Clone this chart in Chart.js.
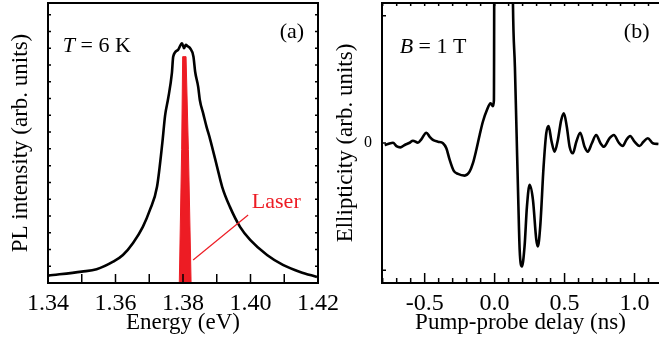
<!DOCTYPE html>
<html>
<head>
<meta charset="utf-8">
<script src="https://cdn.jsdelivr.net/npm/chart.js@4.4.0/dist/chart.umd.min.js"></script>
<style>
    html, body { margin: 0; padding: 0; background: #fff; }
    #wrap { position: relative; width: 659px; height: 342px; overflow: hidden; }
    canvas { position: absolute; top: 0; }
    #plChart { left: 0; }
    #kerrChart { left: 330px; }
</style>
</head>
<body>
<div id="wrap">
    <canvas id="plChart" width="345" height="342"></canvas>
    <canvas id="kerrChart" width="329" height="342"></canvas>
</div>
<script>
// (a) photoluminescence spectrum
const energy = [1.3401, 1.3500, 1.3544, 1.3593, 1.3622, 1.3652, 1.3681, 1.3702, 1.3723, 1.3739,
    1.3747, 1.3756, 1.3767, 1.3771, 1.3785, 1.3797, 1.3803, 1.3808, 1.3815, 1.3821,
    1.3831, 1.3836, 1.3845, 1.3850, 1.3860, 1.3870, 1.3880, 1.3901, 1.3916, 1.3939,
    1.3969, 1.3999, 1.4049, 1.4096, 1.4147, 1.4197];
const plIntensity = [0.44, 0.68, 0.82, 1.27, 1.67, 2.39, 3.35, 4.36, 5.74, 8.4,
    10.0, 11.0, 12.5, 13.5, 13.9, 14.3, 14.0, 14.2, 14.1, 14.0,
    13.5, 12.6, 11.7, 10.9, 10.1, 9.3, 8.6, 6.93, 5.74, 4.54,
    3.35, 2.57, 1.67, 1.08, 0.66, 0.36];

// laser line
const laserEnergy = [1.3789, 1.3796, 1.3799, 1.3809, 1.3816, 1.3824];
const laserIntensity = [0, 7.95, 13.5, 13.5, 7.95, 0];

// (b) ellipticity vs pump-probe delay
const delay = [-0.786, -0.762, -0.726, -0.702, -0.674, -0.643, -0.607, -0.584, -0.548, -0.524,
    -0.488, -0.464, -0.441, -0.405, -0.369, -0.345, -0.321, -0.293, -0.262, -0.214,
    -0.179, -0.155, -0.131, -0.107, -0.084, -0.055, -0.029, -0.012, -0.005, 0.000,
    0.120, 0.131, 0.145, 0.157, 0.169, 0.179, 0.195, 0.214, 0.231, 0.250,
    0.274, 0.298, 0.309, 0.326, 0.350, 0.369, 0.386, 0.405, 0.429, 0.452,
    0.476, 0.495, 0.516, 0.536, 0.559, 0.584, 0.612, 0.643, 0.666, 0.695,
    0.726, 0.757, 0.781, 0.821, 0.852, 0.888, 0.916, 0.941, 0.969, 1.000,
    1.036, 1.064, 1.095, 1.131, 1.171];
const ellipticity = [-0.016, -0.008, 0.002, -0.024, -0.034, -0.016, 0.002, 0.018, 0.002, 0.029,
    0.081, 0.049, 0.024, 0.010, -0.002, -0.042, -0.133, -0.217, -0.243, -0.256,
    -0.225, -0.159, -0.055, 0.063, 0.167, 0.259, 0.311, 0.290, 0.337, 2.5,
    2.5, 1.10, 0.598, 0.076, -0.447, -0.839, -0.970, -0.813, -0.500, -0.329,
    -0.447, -0.761, -0.813, -0.656, -0.186, 0.076, 0.133, 0.024, -0.068, 0.024,
    0.180, 0.233, 0.128, -0.029, -0.081, 0.010, 0.081, -0.029, -0.068, -0.002,
    0.063, -0.002, -0.029, 0.037, 0.063, 0.002, -0.024, 0.024, 0.055, 0.010,
    -0.024, 0.010, 0.037, -0.002, -0.008];

const energyTickLabels = ['1.34', '1.36', '1.38', '1.40', '1.42'];
const delayTickLabels = ['-0.5', '0.0', '0.5', '1.0'];
const ellipticityTickLabels = ['0'];

const serif = "'Liberation Serif', 'Times New Roman', 'DejaVu Serif', serif";
const red = '#ed1c24';

function pts(xs, ys) {
    return xs.map((x, i) => ({ x: x, y: ys[i] }));
}

function steps(from, to, step) {
    const out = [];
    const n = Math.round((to - from) / step);
    for (let i = 0; i <= n; i++) {
        out.push(Math.round((from + i * step) * 1000) / 1000);
    }
    return out;
}

// tick labels should not push the plot area around
function noPad(s) {
    s.paddingTop = 0;
    s.paddingBottom = 0;
}

// box around the plot and tick marks pointing inwards
const frame = {
    id: 'frame',
    afterDatasetsDraw(chart, args, opts) {
        const { ctx, chartArea: a, scales } = chart;
        ctx.save();
        ctx.strokeStyle = '#000';
        ctx.lineWidth = 1.5;
        ctx.beginPath();
        (opts.bottom || []).forEach(t => {
            const px = scales.x.getPixelForValue(t[0]);
            ctx.moveTo(px, a.bottom);
            ctx.lineTo(px, a.bottom - t[1]);
        });
        (opts.top || []).forEach(t => {
            const px = scales.x.getPixelForValue(t[0]);
            ctx.moveTo(px, a.top);
            ctx.lineTo(px, a.top + t[1]);
        });
        (opts.left || []).forEach(t => {
            const py = scales.y.getPixelForValue(t[0]);
            ctx.moveTo(a.left, py);
            ctx.lineTo(a.left + t[1], py);
        });
        (opts.right || []).forEach(t => {
            const py = scales.y.getPixelForValue(t[0]);
            ctx.moveTo(a.right, py);
            ctx.lineTo(a.right - t[1], py);
        });
        ctx.stroke();

        ctx.lineWidth = 2;
        ctx.beginPath();
        if (opts.closed) {
            ctx.rect(a.left, a.top, a.right - a.left, a.bottom - a.top);
        } else {
            ctx.moveTo(a.right + 2, a.top);
            ctx.lineTo(a.left, a.top);
            ctx.lineTo(a.left, a.bottom);
            ctx.lineTo(a.right + 2, a.bottom);
        }
        ctx.stroke();
        ctx.restore();
    }
};

// text labels and leader line, placed in data coordinates
const notes = {
    id: 'notes',
    afterDraw(chart, args, opts) {
        const { ctx, scales: { x, y } } = chart;
        ctx.save();
        (opts.lines || []).forEach(l => {
            ctx.strokeStyle = l.color;
            ctx.lineWidth = l.width;
            ctx.beginPath();
            ctx.moveTo(x.getPixelForValue(l.x1), y.getPixelForValue(l.y1));
            ctx.lineTo(x.getPixelForValue(l.x2), y.getPixelForValue(l.y2));
            ctx.stroke();
        });
        (opts.texts || []).forEach(t => {
            ctx.fillStyle = t.color || '#000';
            ctx.textBaseline = 'alphabetic';
            let px = x.getPixelForValue(t.x);
            const py = y.getPixelForValue(t.y);
            const parts = t.parts || [[t.text, false]];
            let total = 0;
            parts.forEach(p => {
                ctx.font = (p[1] ? 'italic ' : '') + t.size + 'px ' + serif;
                total += ctx.measureText(p[0]).width;
            });
            if (t.align === 'right') px -= total;
            ctx.textAlign = 'left';
            parts.forEach(p => {
                ctx.font = (p[1] ? 'italic ' : '') + t.size + 'px ' + serif;
                ctx.fillText(p[0], px, py);
                px += ctx.measureText(p[0]).width;
            });
        });
        ctx.restore();
    }
};

const energyMinor = steps(1.34, 1.42, 0.01);
const delayMinor = steps(-0.8, 1.1, 0.1);

new Chart(document.getElementById('plChart'), {
    type: 'line',
    data: {
        datasets: [{
            data: pts(laserEnergy, laserIntensity),
            borderColor: red,
            backgroundColor: red,
            borderWidth: 1,
            fill: 'origin',
            pointRadius: 0,
            tension: 0
        }, {
            data: pts(energy, plIntensity),
            borderColor: '#000',
            borderWidth: 2.6,
            fill: false,
            pointRadius: 0,
            cubicInterpolationMode: 'monotone'
        }]
    },
    options: {
        responsive: false,
        animation: false,
        devicePixelRatio: 1,
        layout: { padding: { top: 3, right: 27, bottom: 0, left: 0 } },
        plugins: {
            legend: { display: false },
            tooltip: { enabled: false },
            frame: {
                closed: true,
                bottom: energyMinor.map(v => [v, 9]),
                left: steps(1, 16, 1).map(v => [v, 3]),
                right: steps(1, 16, 1).map(v => [v, 3])
            },
            notes: {
                lines: [{ x1: 1.3830, y1: 1.37, x2: 1.3993, y2: 4.06, color: red, width: 1.2 }],
                texts: [
                    { x: 1.3444, y: 13.75, size: 22, parts: [['T', true], [' = 6 K', false]] },
                    { x: 1.4159, y: 14.64, size: 22, text: '(a)', align: 'right' },
                    { x: 1.4004, y: 4.48, size: 22, text: 'Laser', color: red }
                ]
            }
        },
        scales: {
            x: {
                type: 'linear',
                min: 1.34,
                max: 1.42,
                grid: { display: false, drawTicks: false },
                border: { display: false },
                afterBuildTicks: s => { s.ticks = energyMinor.map(v => ({ value: v })); },
                afterFit: s => { s.height = 59; },
                ticks: {
                    autoSkip: false,
                    maxRotation: 0,
                    padding: 6,
                    color: '#000',
                    font: { family: serif, size: 24 },
                    callback: v => {
                        const s = Number(v).toFixed(2);
                        return energyTickLabels.includes(s) ? s : '';
                    }
                },
                title: {
                    display: true,
                    text: 'Energy (eV)',
                    color: '#000',
                    font: { family: serif, size: 23 },
                    padding: { top: 0, bottom: 5 }
                }
            },
            y: {
                min: 0,
                max: 16.7,
                grid: { display: false, drawTicks: false },
                border: { display: false },
                ticks: { display: false },
                afterFit: s => { s.width = 48; noPad(s); },
                title: {
                    display: true,
                    text: 'PL intensity (arb. units)',
                    color: '#000',
                    font: { family: serif, size: 23 },
                    padding: { top: 7, bottom: 0 }
                }
            }
        }
    },
    plugins: [frame, notes]
});

new Chart(document.getElementById('kerrChart'), {
    type: 'line',
    data: {
        datasets: [{
            data: pts(delay, ellipticity),
            borderColor: '#000',
            borderWidth: 2.6,
            fill: false,
            pointRadius: 0,
            cubicInterpolationMode: 'monotone'
        }]
    },
    options: {
        responsive: false,
        animation: false,
        devicePixelRatio: 1,
        layout: { padding: { top: 3, right: 0, bottom: 0, left: 0 } },
        plugins: {
            legend: { display: false },
            tooltip: { enabled: false },
            frame: {
                closed: false,
                bottom: delayMinor.map(v => [v, delayTickLabels.includes(v.toFixed(1)) ? 10 : 5]),
                top: delayMinor.map(v => [v, 3]),
                left: [[-1, 4], [0, 4], [1, 4]]
            },
            notes: {
                texts: [
                    { x: -0.679, y: 0.706, size: 22, parts: [['B', true], [' = 1 T', false]] },
                    { x: 1.107, y: 0.824, size: 22, text: '(b)', align: 'right' }
                ]
            }
        },
        scales: {
            x: {
                type: 'linear',
                min: -0.805,
                max: 1.175,
                grid: { display: false, drawTicks: false },
                border: { display: false },
                afterBuildTicks: s => { s.ticks = delayMinor.map(v => ({ value: v })); },
                afterFit: s => { s.height = 59; },
                ticks: {
                    autoSkip: false,
                    maxRotation: 0,
                    padding: 6,
                    color: '#000',
                    font: { family: serif, size: 24 },
                    callback: v => {
                        const s = Number(v).toFixed(1);
                        return delayTickLabels.includes(s) ? s : '';
                    }
                },
                title: {
                    display: true,
                    text: 'Pump-probe delay (ns)',
                    color: '#000',
                    font: { family: serif, size: 23 },
                    padding: { top: 0, bottom: 5 }
                }
            },
            y: {
                min: -1.1,
                max: 1.1,
                grid: { display: false, drawTicks: false },
                border: { display: false },
                afterBuildTicks: s => { s.ticks = [-1, 0, 1].map(v => ({ value: v })); },
                afterFit: s => { s.width = 52; noPad(s); },
                ticks: {
                    padding: 10,
                    color: '#000',
                    font: { family: serif, size: 16 },
                    callback: v => ellipticityTickLabels.includes(String(v)) ? String(v) : ''
                },
                title: {
                    display: true,
                    text: 'Ellipticity (arb. units)',
                    color: '#000',
                    font: { family: serif, size: 23 },
                    padding: { top: 2, bottom: 0 }
                }
            }
        }
    },
    plugins: [frame, notes]
});
</script>
</body>
</html>
